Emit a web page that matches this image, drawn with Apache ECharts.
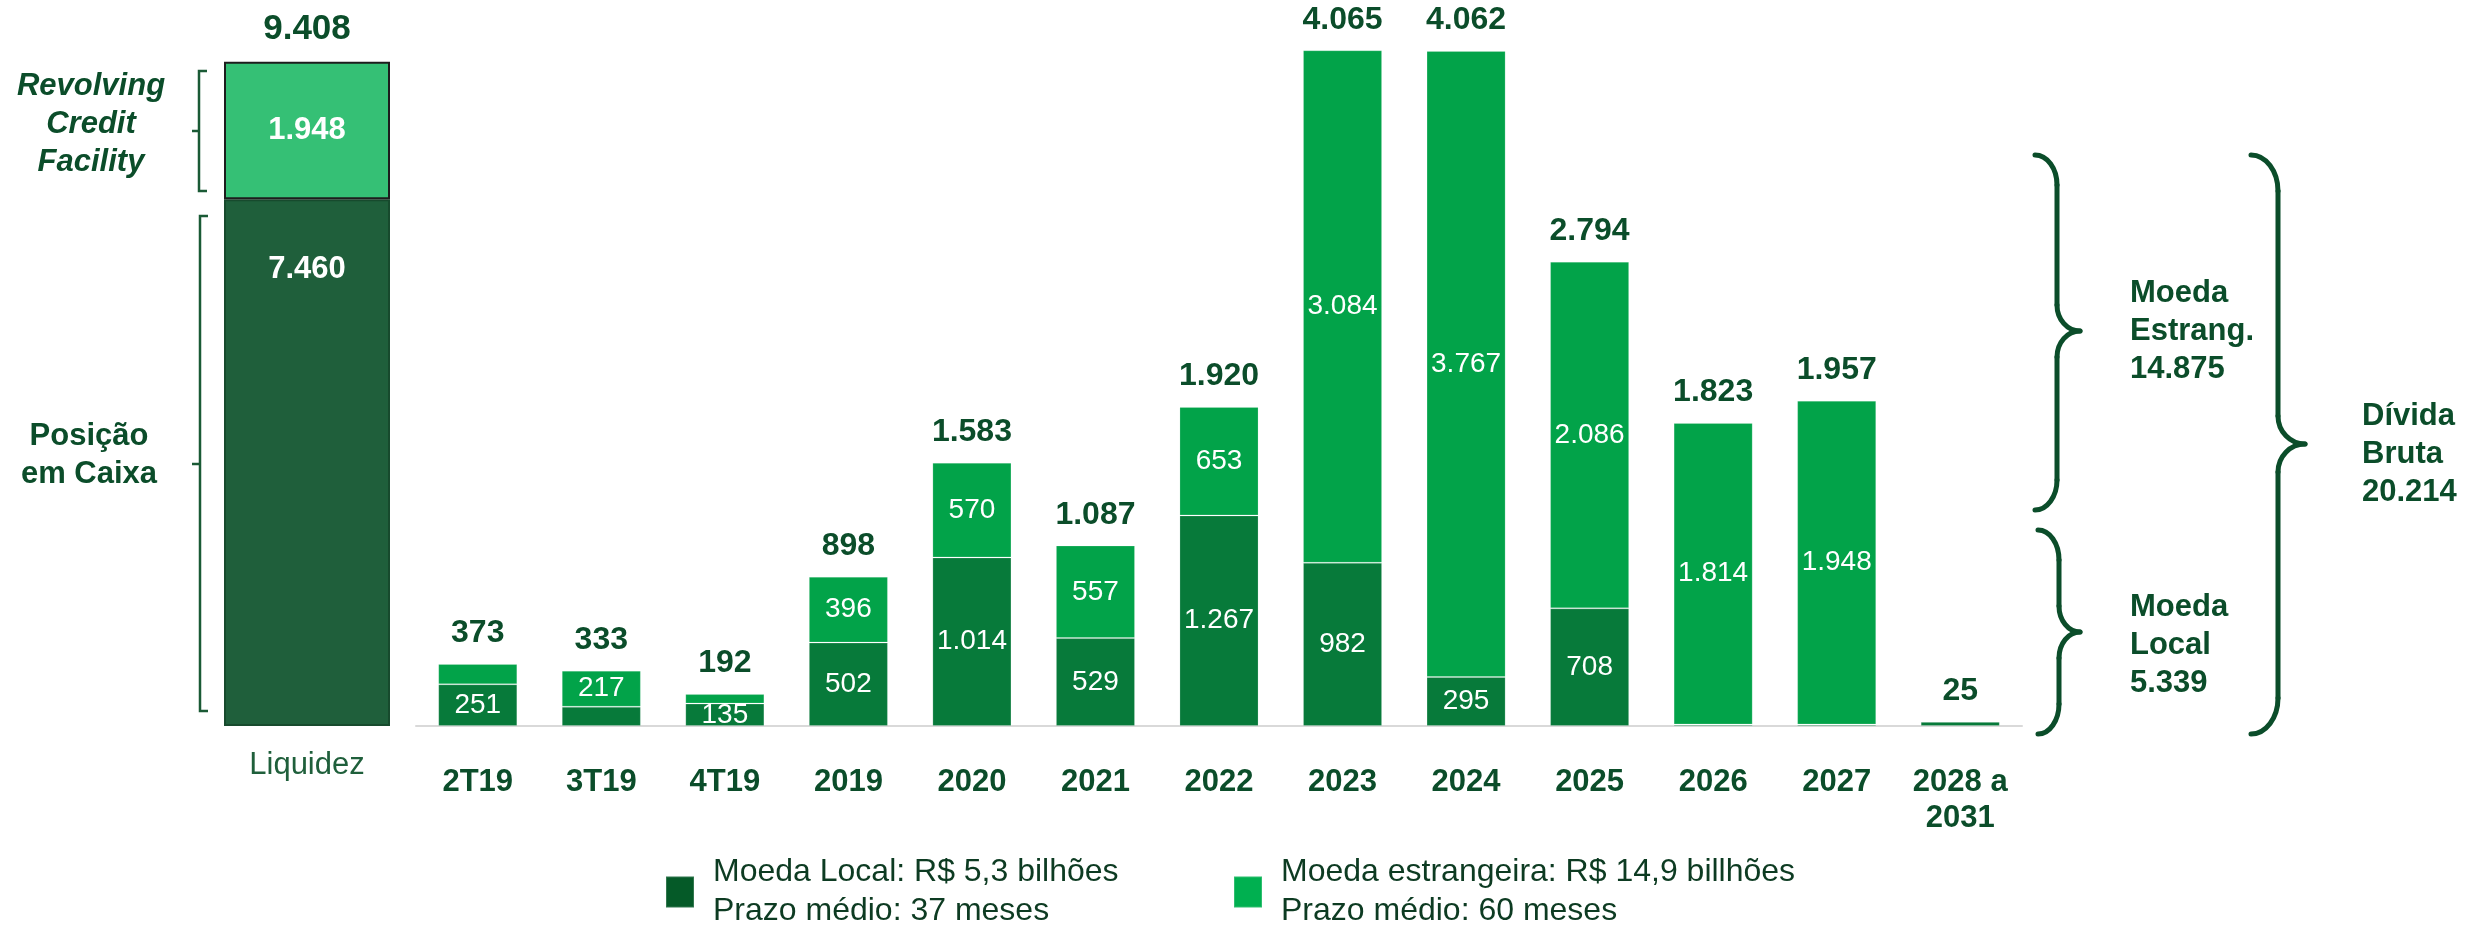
<!DOCTYPE html>
<html><head><meta charset="utf-8">
<script src="https://cdn.jsdelivr.net/npm/echarts@6/dist/echarts.min.js"></script>
<style>html,body{margin:0;padding:0;background:#fff}#c{width:2476px;height:928px}</style>
</head><body><div id="c"></div>
<script>
// ---------- data ----------
const categories = ['2T19','3T19','4T19','2019','2020','2021','2022','2023','2024','2025','2026','2027','2028 a\n2031'];
const localValues = [251,116,135,502,1014,529,1267,982,295,708,9,9,25];
const foreignValues = [122,217,57,396,570,557,653,3084,3767,2086,1814,1948,0];
const totals = [373,333,192,898,1583,1087,1920,4065,4062,2794,1823,1957,25];
const hiddenLocalLabels = ['3T19','2026','2027','2028 a\n2031'];
const hiddenForeignLabels = ['2T19','4T19','2028 a\n2031'];
const liquidityCategories = ['Liquidez'];
const cashPosition = [7460];
const revolvingCredit = [1948];
const liquidityTotal = [9408];
const legendLocalText = ['Moeda Local: R$ 5,3 bilhões', 'Prazo médio: 37 meses'];
const legendForeignText = ['Moeda estrangeira: R$ 14,9 billhões', 'Prazo médio: 60 meses'];
const noteRevolving = 'Revolving\nCredit\nFacility';
const noteCash = 'Posição\nem Caixa';
const noteForeign = 'Moeda\nEstrang.\n14.875';
const noteLocal = 'Moeda\nLocal\n5.339';
const noteGross = 'Dívida\nBruta\n20.214';

// ---------- styling ----------
const FONT = '"Liberation Sans", Arial, sans-serif';
const DARKTXT = '#0b4d2a';
const fmt = v => String(v).replace(/\B(?=(\d{3})+(?!\d))/g, '.');

const chart = echarts.init(document.getElementById('c'), null, {renderer: 'canvas'});

function brace(xEnd, xV, xTip, top, bottom, mid, r, r2, color, w) {
  const k = 0.552;
  const st = {stroke: color, lineWidth: w, fill: null, lineCap: 'round'};
  const dx = xV - xEnd, dt = xTip - xV;
  return [
    {type:'bezierCurve', shape:{x1:xEnd,y1:top,x2:xV,y2:top+r,cpx1:xEnd+k*dx,cpy1:top,cpx2:xV,cpy2:top+r-k*r}, style:st},
    {type:'line', shape:{x1:xV,y1:top+r,x2:xV,y2:mid-r2}, style:st},
    {type:'bezierCurve', shape:{x1:xV,y1:mid-r2,x2:xTip,y2:mid,cpx1:xV,cpy1:mid-r2+k*r2,cpx2:xTip-k*dt,cpy2:mid}, style:st},
    {type:'bezierCurve', shape:{x1:xTip,y1:mid,x2:xV,y2:mid+r2,cpx1:xTip-k*dt,cpy1:mid,cpx2:xV,cpy2:mid+r2-k*r2}, style:st},
    {type:'line', shape:{x1:xV,y1:mid+r2,x2:xV,y2:bottom-r}, style:st},
    {type:'bezierCurve', shape:{x1:xV,y1:bottom-r,x2:xEnd,y2:bottom,cpx1:xV,cpy1:bottom-r+k*r,cpx2:xEnd+k*dx,cpy2:bottom}, style:st}
  ];
}
function bracket(xV, xCap, xTick, top, bottom, mid, color, w) {
  const st = {stroke: color, lineWidth: w, fill: null};
  return [
    {type:'polyline', shape:{points:[[xCap,top],[xV,top],[xV,bottom],[xCap,bottom]]}, style:st},
    {type:'line', shape:{x1:xTick,y1:mid,x2:xV,y2:mid}, style:st}
  ];
}
function note(text, x, y, align, italic) {
  return {type:'text', style:{text:text, x:x, y:y, align:align, verticalAlign:'middle',
    font:(italic?'italic ':'') + 'bold 31px ' + FONT, lineHeight:38, fill:DARKTXT}};
}

const graphics = [].concat(
  bracket(199, 207, 192, 71, 191, 131, '#1a5a35', 2.5),
  bracket(200, 208, 192, 216, 711, 464, '#1a5a35', 2.5),
  brace(2035, 2057, 2080, 155, 510, 331, 30, 26, DARKTXT, 5),
  brace(2038, 2059, 2080, 530, 734, 632, 30, 26, DARKTXT, 5),
  brace(2251, 2278, 2305, 155, 734, 444, 36, 28, DARKTXT, 5),
  [
    note(noteRevolving, 91, 124, 'center', true),
    note(noteCash, 89, 455, 'center', false),
    note(noteForeign, 2130, 331, 'left', false),
    note(noteLocal, 2130, 645, 'left', false),
    note(noteGross, 2362, 454, 'left', false)
  ]
);

const insideLabel = (hidden) => ({
  show: true, position: 'inside', color: '#fff', fontSize: 28, fontFamily: FONT,
  formatter: p => hidden.indexOf(p.name) >= 0 ? '' : fmt(p.value)
});
const totalLabel = (size) => ({
  show: true, position: 'top', distance: 14, color: DARKTXT, fontSize: size, fontWeight: 'bold', fontFamily: FONT,
  formatter: p => fmt(p.value)
});

const option = {
  animation: false,
  backgroundColor: '#fff',
  textStyle: {fontFamily: FONT},
  grid: [
    {left: 207, width: 200, top: 20, bottom: 202},
    {left: 416, width: 1606, top: 28, bottom: 202}
  ],
  xAxis: [
    {gridIndex: 0, type: 'category', data: liquidityCategories,
     axisLine: {show: false}, axisTick: {show: false},
     axisLabel: {color: '#1f5f3b', fontSize: 31, fontFamily: FONT, margin: 24}},
    {gridIndex: 1, type: 'category', data: categories,
     axisLine: {show: true, lineStyle: {color: '#d9d9d9', width: 2}}, axisTick: {show: false},
     axisLabel: {interval: 0, color: DARKTXT, fontSize: 31, fontWeight: 'bold', fontFamily: FONT, margin: 38, lineHeight: 36}}
  ],
  yAxis: [
    {gridIndex: 0, type: 'value', min: 0, max: 10000, show: false, splitLine: {show: false}},
    {gridIndex: 1, type: 'value', min: 0, max: 4200, show: false, splitLine: {show: false}}
  ],
  legend: [
    {data: [{name: 'Moeda Local', itemStyle: {color: '#055a28'}}], left: 665, top: 853, padding: 0,
     icon: 'rect', itemWidth: 28, itemHeight: 31, selectedMode: false,
     formatter: () => legendLocalText.join('\n'),
     textStyle: {fontSize: 32, lineHeight: 39, color: '#0d3b22', fontFamily: FONT, padding: [0, 0, 0, 14]}},
    {data: [{name: 'Moeda estrangeira', itemStyle: {color: '#00b050'}}], left: 1233, top: 853, padding: 0,
     icon: 'rect', itemWidth: 28, itemHeight: 31, selectedMode: false,
     formatter: () => legendForeignText.join('\n'),
     textStyle: {fontSize: 32, lineHeight: 39, color: '#0d3b22', fontFamily: FONT, padding: [0, 0, 0, 14]}}
  ],
  graphic: {elements: graphics},
  series: [
    {name: 'Posição em Caixa', type: 'bar', xAxisIndex: 0, yAxisIndex: 0, stack: 'liq', barWidth: 166,
     data: cashPosition,
     itemStyle: {color: '#1f5f3b', borderColor: '#174a2d', borderWidth: 2},
     label: {show: true, position: 'insideTop', distance: 55, color: '#fff', fontSize: 31, fontWeight: 'bold', fontFamily: FONT,
             formatter: p => fmt(p.value)}},
    {name: 'Revolving Credit Facility', type: 'bar', xAxisIndex: 0, yAxisIndex: 0, stack: 'liq', barWidth: 166,
     data: revolvingCredit,
     itemStyle: {color: '#35c075', borderColor: '#1d1d1d', borderWidth: 2},
     label: {show: true, position: 'inside', color: '#fff', fontSize: 31, fontWeight: 'bold', fontFamily: FONT,
             formatter: p => fmt(p.value)}},
    {name: 'Liquidez total', type: 'scatter', xAxisIndex: 0, yAxisIndex: 0, data: liquidityTotal,
     symbolSize: 1, itemStyle: {color: 'rgba(0,0,0,0)', opacity: 1}, label: totalLabel(35)},
    {name: 'Moeda Local', type: 'bar', xAxisIndex: 1, yAxisIndex: 1, stack: 'debt', barWidth: '64%',
     data: localValues,
     itemStyle: {color: '#077a3a', borderColor: 'rgba(255,255,255,0.18)', borderWidth: 1},
     label: insideLabel(hiddenLocalLabels)},
    {name: 'Moeda estrangeira', type: 'bar', xAxisIndex: 1, yAxisIndex: 1, stack: 'debt', barWidth: '64%',
     data: foreignValues,
     itemStyle: {color: '#02a349', borderColor: 'rgba(255,255,255,0.18)', borderWidth: 1},
     label: insideLabel(hiddenForeignLabels)},
    {name: 'Total', type: 'scatter', xAxisIndex: 1, yAxisIndex: 1, data: totals,
     symbolSize: 1, itemStyle: {color: 'rgba(0,0,0,0)', opacity: 1}, label: totalLabel(32)}
  ]
};
chart.setOption(option);
</script>
</body></html>
